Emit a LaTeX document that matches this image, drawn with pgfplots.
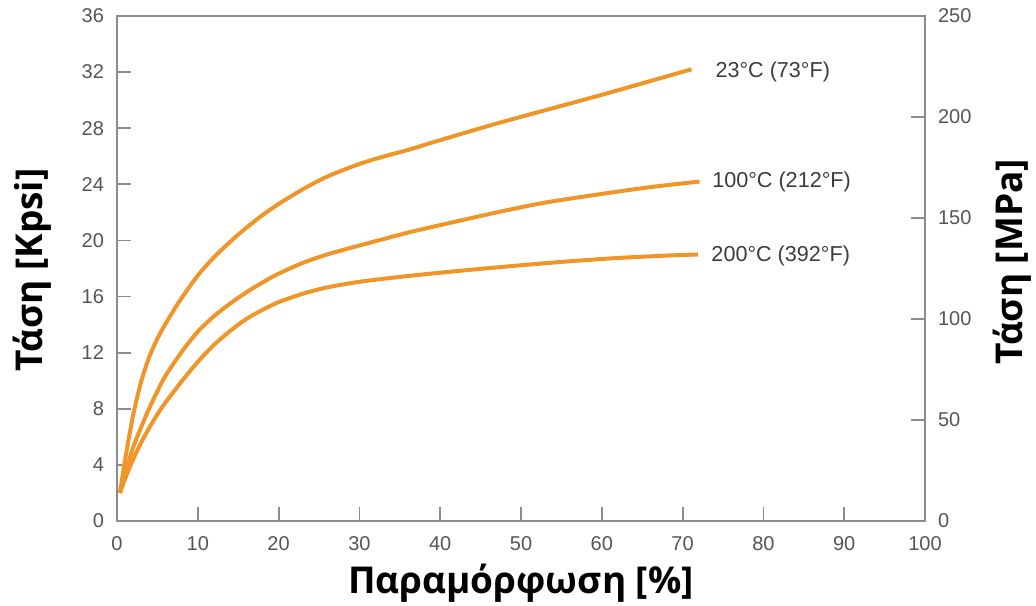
\documentclass[border=0pt]{standalone}
\usepackage{fontspec}
\setmainfont{Liberation Sans}
\newfontfamily\labfont{Open Sans}
\usepackage{pgfplots}
\pgfplotsset{compat=1.18}
\definecolor{curve}{RGB}{240,150,40}
\definecolor{tickgray}{RGB}{85,85,85}
\definecolor{framegray}{RGB}{140,140,140}
\definecolor{labgray}{RGB}{60,60,60}

\pgfplotstableread{
x y
0.37 2.0
1 4.35
2 7.55
3 9.95
4 11.7
5 13.0
6 14.05
7 15.0
8 15.9
10 17.5
12 18.8
14 19.9
16 20.9
18 21.8
20 22.6
23 23.65
26 24.55
30 25.45
33 25.98
36.3 26.5
40 27.15
47.4 28.4
59.8 30.35
71.1 32.2
}\tA

\pgfplotstableread{
x y
0.37 2.0
1 3.4
2 5.25
3 6.7
4 8.05
5 9.25
6 10.35
8 12.05
10 13.5
12 14.6
14 15.5
16 16.3
18 17.0
20 17.63
23 18.4
26 19.0
30 19.64
33 20.1
36.3 20.6
41.2 21.25
47.4 22.05
53 22.7
59.8 23.3
66 23.8
72.1 24.2
}\tB

\pgfplotstableread{
x y
0.37 2.0
1 3.0
2 4.4
3 5.6
4 6.65
5 7.6
6 8.45
8 9.95
10 11.35
12 12.55
14 13.55
16 14.4
18 15.05
20 15.6
23 16.2
26 16.65
30 17.05
35 17.4
40 17.7
47 18.08
55 18.47
62 18.75
68 18.92
71.9 19.0
}\tC

\begin{document}
\begin{tikzpicture}
\path[use as bounding box] (-58.5pt,-42pt) rectangle (459.5pt,260.5pt);
\begin{axis}[
  at={(0pt,0pt)}, anchor=south west, scale only axis,
  width=404pt, height=252.5pt,
  xmin=0, xmax=100, ymin=0, ymax=36,
  xtick={0,10,...,100}, ytick={0,4,...,36},
  xtick pos=bottom, ytick pos=left,
  tick align=inside, major tick length=7pt,
  axis line style={framegray, line width=1pt},
  every tick/.style={framegray, line width=0.9pt},
  tick label style={font=\fontsize{10}{12}\selectfont, text=tickgray},
  /pgf/number format/assume math mode=true,
  xticklabel style={yshift=-4pt},
  yticklabel style={xshift=-3pt},
  xlabel={Παραμόρφωση [\%]},
  ylabel={Τάση [Kpsi]},
  label style={font=\labfont\bfseries\fontsize{18.5}{22}\selectfont, text=black},
  xlabel style={at={(axis description cs:0.5,-0.123)}, anchor=center},
  ylabel style={at={(axis description cs:-0.105,0.497)}, anchor=center},
  clip=false,
]
\addplot[curve, line width=2pt, smooth] table[x=x,y=y] {\tA};
\addplot[curve, line width=2pt, smooth] table[x=x,y=y] {\tB};
\addplot[curve, line width=2pt, smooth] table[x=x,y=y] {\tC};
\node[anchor=west, font=\fontsize{10.8}{13}\selectfont, text=labgray] at (axis cs:73.2,32.0) {23°C (73°F)};
\node[anchor=west, font=\fontsize{10.8}{13}\selectfont, text=labgray] at (axis cs:72.8,24.2) {100°C (212°F)};
\node[anchor=west, font=\fontsize{10.8}{13}\selectfont, text=labgray] at (axis cs:72.7,18.9) {200°C (392°F)};
\end{axis}
\begin{axis}[
  at={(0pt,0pt)}, anchor=south west, scale only axis,
  width=404pt, height=252.5pt,
  xmin=0, xmax=100, ymin=0, ymax=250,
  axis x line=none, axis y line*=right,
  ytick={0,50,...,250},
  tick align=inside, major tick length=7pt,
  axis line style={framegray, line width=1pt},
  every tick/.style={framegray, line width=0.9pt},
  tick label style={font=\fontsize{10}{12}\selectfont, text=tickgray},
  /pgf/number format/assume math mode=true,
  yticklabel style={xshift=3pt},
  ylabel={Τάση [MPa]},
  label style={font=\labfont\bfseries\fontsize{18.5}{22}\selectfont, text=black},
  ylabel style={at={(axis description cs:1.108,0.513)}, anchor=center},
]
\end{axis}
\end{tikzpicture}
\end{document}
